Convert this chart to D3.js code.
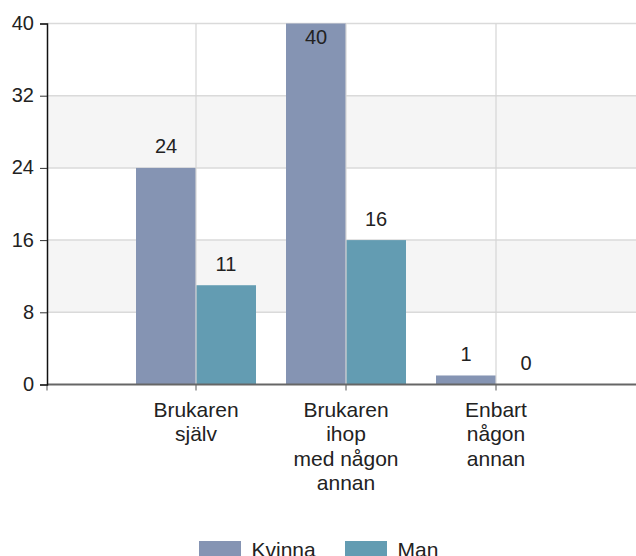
<!DOCTYPE html>
<html lang="sv">
<head>
    <meta charset="UTF-8">
    <title>Brukaren</title>
    <style>
        body { margin: 0; background: #fff; }
        svg text { font-family: "Liberation Sans", Arial, sans-serif; fill: #222; }
    </style>
</head>
<body>
    <svg class="chart-svg" width="636" height="556"></svg>
    <script src="https://d3js.org/d3.v7.min.js"></script>
    <script>
        // Data
        var categories = [
            ["Brukaren", "själv"],
            ["Brukaren", "ihop", "med någon", "annan"],
            ["Enbart", "någon", "annan"]
        ];
        var series = ["Kvinna", "Man"];
        var kvinna = [24, 40, 1];
        var man = [11, 16, 0];
        var yTicks = [0, 8, 16, 24, 32, 40];
        var colors = ["#8594b3", "#639cb2"];

        var svg = d3.select(".chart-svg");
        var plotLeft = 47, plotRight = 636, plotTop = 23.5, plotBottom = 384.5;
        var numSize = 20, labelSize = 21;

        var keys = categories.map(function (c, i) { return "c" + i; });

        var y = d3.scaleLinear().domain([0, 40]).range([plotBottom, plotTop]);

        var x = d3.scaleBand()
            .domain(keys)
            .range([121, 571])
            .paddingInner(0.2)
            .paddingOuter(0.1);

        var xs = d3.scaleBand()
            .domain(series)
            .range([0, x.bandwidth()]);

        // alternating light bands (8-16, 24-32)
        for (var i = 1; i + 1 < yTicks.length; i += 2) {
            svg.append("rect")
                .attr("x", plotLeft)
                .attr("y", y(yTicks[i + 1]))
                .attr("width", plotRight - plotLeft)
                .attr("height", y(yTicks[i]) - y(yTicks[i + 1]))
                .attr("fill", "#f5f5f5");
        }

        // horizontal gridlines
        svg.append("g").selectAll("line")
            .data(yTicks.slice(1))
            .enter().append("line")
            .attr("x1", plotLeft).attr("x2", plotRight)
            .attr("y1", function (d) { return y(d); })
            .attr("y2", function (d) { return y(d); })
            .attr("stroke", "#dadada")
            .attr("stroke-width", 1.5);

        // bars
        var rows = keys.map(function (k, i) {
            return [{ key: k, s: "Kvinna", v: kvinna[i], c: colors[0] },
                    { key: k, s: "Man", v: man[i], c: colors[1] }];
        });
        var groups = svg.append("g").selectAll("g")
            .data(rows)
            .enter().append("g")
            .attr("transform", function (d) { return "translate(" + x(d[0].key) + ",0)"; });

        groups.selectAll("rect")
            .data(function (d) { return d; })
            .enter().append("rect")
            .attr("x", function (d) { return xs(d.s); })
            .attr("y", function (d) { return y(d.v); })
            .attr("width", xs.bandwidth())
            .attr("height", function (d) { return plotBottom - y(d.v); })
            .attr("fill", function (d) { return d.c; });

        groups.selectAll("text")
            .data(function (d) { return d; })
            .enter().append("text")
            .attr("x", function (d) { return xs(d.s) + xs.bandwidth() / 2; })
            .attr("y", function (d) {
                var yy = y(d.v) - 14.5;
                return yy < plotTop + 10 ? y(d.v) + 20 : yy;
            })
            .attr("text-anchor", "middle")
            .style("font-size", numSize + "px")
            .text(function (d) { return d.v; });

        // vertical gridlines at category centres
        svg.append("g").selectAll("line")
            .data(keys)
            .enter().append("line")
            .attr("x1", function (d) { return x(d) + x.bandwidth() / 2; })
            .attr("x2", function (d) { return x(d) + x.bandwidth() / 2; })
            .attr("y1", plotTop).attr("y2", plotBottom)
            .attr("stroke", "#d6d6d6")
            .attr("stroke-width", 1.2);

        // x axis
        var xAxis = svg.append("g")
            .attr("transform", "translate(0," + plotBottom + ")")
            .call(d3.axisBottom(x).tickSize(6).tickSizeOuter(0).tickFormat(""));
        xAxis.select(".domain").remove();
        xAxis.selectAll(".tick line").attr("stroke", "#555");
        xAxis.append("line")
            .attr("x1", plotLeft).attr("x2", plotRight)
            .attr("stroke", "#666").attr("stroke-width", 2);
        xAxis.append("line")
            .attr("x1", plotLeft).attr("x2", plotLeft).attr("y1", 0).attr("y2", 6)
            .attr("stroke", "#555");

        // category labels
        svg.append("g").selectAll("text")
            .data(keys)
            .enter().append("text")
            .attr("text-anchor", "middle")
            .attr("x", function (d) { return x(d) + x.bandwidth() / 2; })
            .attr("y", 416.5)
            .style("font-size", labelSize + "px")
            .each(function (d, i) {
                var t = d3.select(this);
                categories[i].forEach(function (line, j) {
                    t.append("tspan")
                        .attr("x", x(d) + x.bandwidth() / 2)
                        .attr("dy", j === 0 ? 0 : 24.5)
                        .text(line);
                });
            });

        // y axis
        var yAxis = svg.append("g")
            .attr("transform", "translate(" + plotLeft + ",0)")
            .call(d3.axisLeft(y).tickValues(yTicks).tickSize(7).tickPadding(6));
        yAxis.select(".domain").attr("stroke", "#111").attr("stroke-width", 1.5);
        yAxis.selectAll(".tick line").attr("stroke", "#333");
        yAxis.selectAll(".tick text")
            .style("font-size", numSize + "px")
            .attr("fill", "#222")
            .attr("dy", "0.3em");

        // legend
        var legendX = [199, 345];
        var legend = svg.append("g").selectAll("g")
            .data(series)
            .enter().append("g")
            .attr("transform", function (d, i) { return "translate(" + legendX[i] + ",541)"; });
        legend.append("rect")
            .attr("width", 42).attr("height", 18)
            .attr("fill", function (d, i) { return colors[i]; });
        legend.append("text")
            .attr("x", 52.5).attr("y", 15.5)
            .style("font-size", labelSize + "px")
            .text(function (d) { return d; });
    </script>
</body>
</html>
